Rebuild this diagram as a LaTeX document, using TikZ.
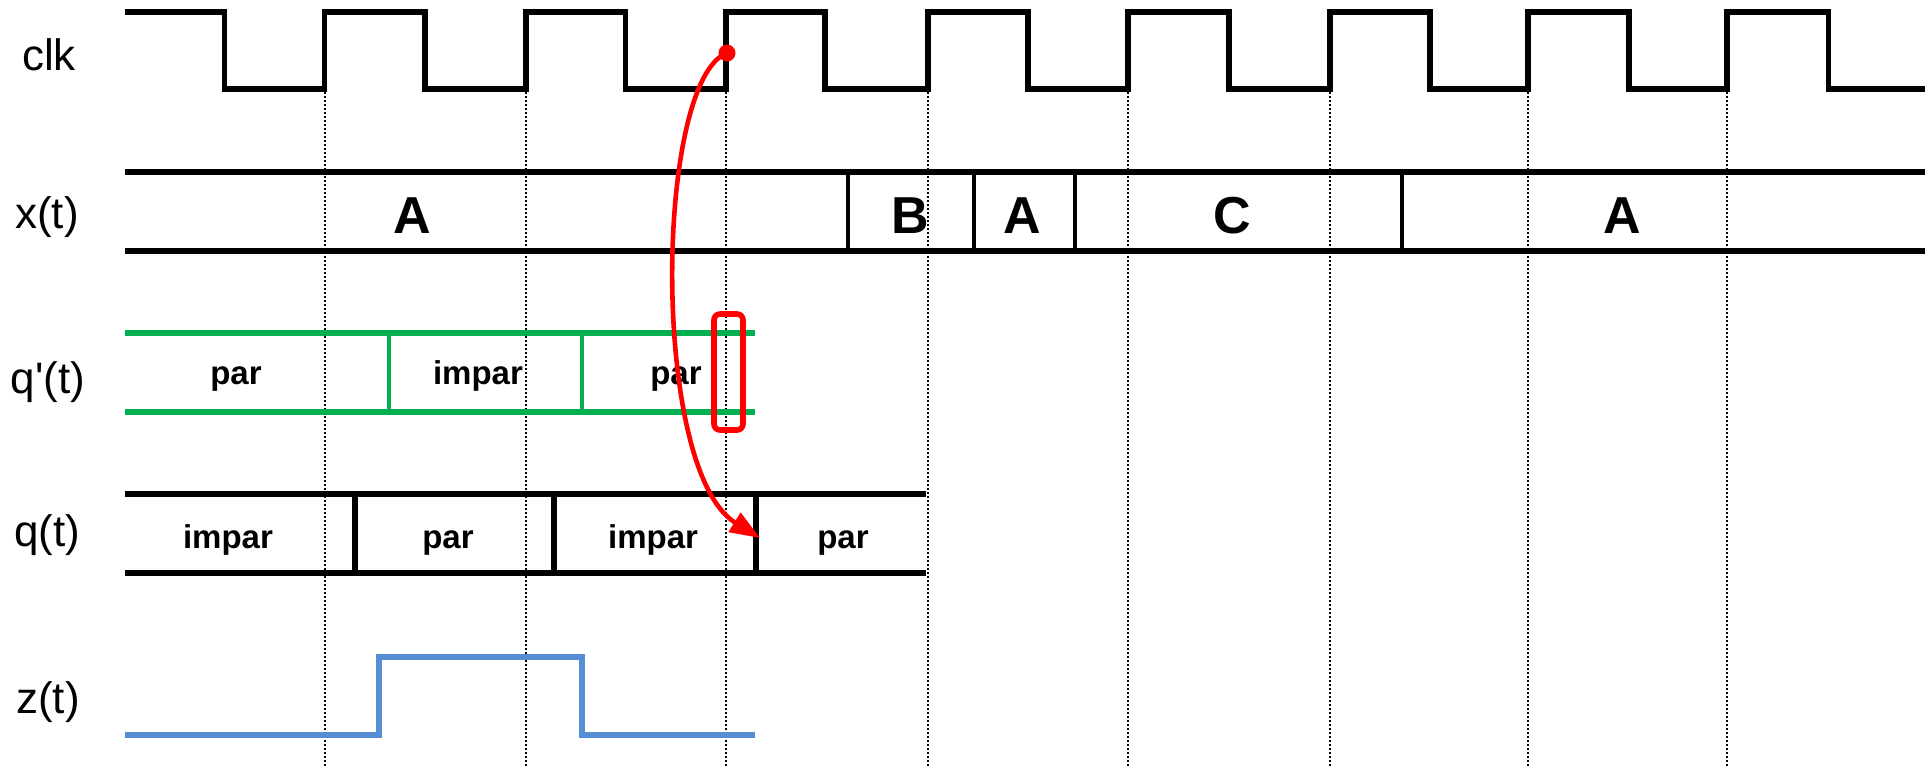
\documentclass[tikz,border=0pt]{standalone}
\usepackage{fontspec}
\setmainfont{Liberation Sans}
\usetikzlibrary{arrows.meta}
\definecolor{qgreen}{RGB}{0,176,80}
\definecolor{zblue}{RGB}{85,142,213}
\tikzstyle{wave} = [
    line width=2.9pt,
    line join=miter
]
\tikzstyle{busedge} = [
    line width=2.4pt
]
\tikzstyle{edgeline} = [
    line width=1pt,
    dash pattern=on 1pt off 1pt
]
\tikzstyle{signame} = [
    font=\fontsize{22}{26}\selectfont
]
\tikzstyle{bigval} = [
    anchor=base,
    font=\fontsize{26}{30}\selectfont\bfseries
]
\tikzstyle{smallval} = [
    anchor=base,
    font=\fontsize{16.5}{20}\selectfont\bfseries
]
\tikzstyle{redarrow} = [
    red,
    line width=2.3pt,
    -{Triangle[length=15pt,width=11pt]}
]
\begin{document}
\begin{tikzpicture}[x=0.5pt, y=-0.5pt]

\useasboundingbox (0,0) rectangle (1931,767);

% dotted lines at the rising edges
\draw [edgeline] (324.5,92) -- (324.5,767);
\draw [edgeline] (526,92) -- (526,767);
\draw [edgeline] (726,92) -- (726,767);
\draw [edgeline] (928,92) -- (928,767);
\draw [edgeline] (1128,92) -- (1128,767);
\draw [edgeline] (1330,92) -- (1330,767);
\draw [edgeline] (1528,92) -- (1528,767);
\draw [edgeline] (1727,92) -- (1727,767);

% clk
\draw [wave] (124.5,12) -- (224.5,12) -- (224.5,89) -- (324.5,89)
    -- (324.5,12) -- (425,12) -- (425,89) -- (526,89)
    -- (526,12) -- (625.5,12) -- (625.5,89) -- (726,89)
    -- (726,12) -- (825,12) -- (825,89) -- (928,89)
    -- (928,12) -- (1028,12) -- (1028,89) -- (1128,89)
    -- (1128,12) -- (1229,12) -- (1229,89) -- (1330,89)
    -- (1330,12) -- (1430,12) -- (1430,89) -- (1528,89)
    -- (1528,12) -- (1629,12) -- (1629,89) -- (1727,89)
    -- (1727,12) -- (1828.5,12) -- (1828.5,89) -- (1925,89);

% x(t)
\draw [wave] (125,172) -- (1925,172);
\draw [wave] (125,251) -- (1925,251);
\draw [busedge] (848,172) -- (848,251);
\draw [busedge] (974,172) -- (974,251);
\draw [busedge] (1075,172) -- (1075,251);
\draw [busedge] (1402,172) -- (1402,251);

% q'(t)
\draw [wave, qgreen] (125,333) -- (755,333);
\draw [wave, qgreen] (125,412) -- (755,412);
\draw [busedge, qgreen] (389,333) -- (389,412);
\draw [busedge, qgreen] (582,333) -- (582,412);

% q(t)
\draw [wave] (125,494) -- (926,494);
\draw [wave] (125,573) -- (926,573);
\draw [busedge, line width=2.8pt] (355,494) -- (355,573);
\draw [busedge, line width=2.8pt] (554,494) -- (554,573);
\draw [busedge, line width=2.8pt] (756,494) -- (756,573);

% z(t)
\draw [wave, zblue, line width=3.1pt] (125,735) -- (379,735) -- (379,657)
    -- (582,657) -- (582,735) -- (755,735);

% signal names
\node (nclk) [signame] at (49,55) {clk};
\node (nx) [signame] at (47,217) {x(t)};
\node (nqn) [signame] at (48,382) {q\textquotesingle(t)};
\node (nq) [signame] at (47,535) {q(t)};
\node (nz) [signame] at (48,702) {z(t)};

% values
\node (xa1) [bigval] at (412,233) {A};
\node (xb) [bigval] at (910,233) {B};
\node (xa2) [bigval] at (1022,233) {A};
\node (xc) [bigval] at (1232,233) {C};
\node (xa3) [bigval] at (1622,233) {A};

\node (qn1) [smallval] at (236,384) {par};
\node (qn2) [smallval] at (478,384) {impar};
\node (qn3) [smallval] at (676,384) {par};

\node (q1) [smallval] at (228,548) {impar};
\node (q2) [smallval] at (448,548) {par};
\node (q3) [smallval] at (653,548) {impar};
\node (q4) [smallval] at (843,548) {par};

% sampled value and its transfer
\draw [red, line width=2.8pt, rounded corners=3pt] (714,314) rectangle (743,430);
\node (clkdot) [circle, fill=red, inner sep=0pt, minimum size=8.5pt] at (727,53) {};
\coordinate (qnew) at (760,538);
\draw [redarrow] (clkdot.center) .. controls (655,80) and (650,470) .. (qnew);

\end{tikzpicture}
\end{document}
